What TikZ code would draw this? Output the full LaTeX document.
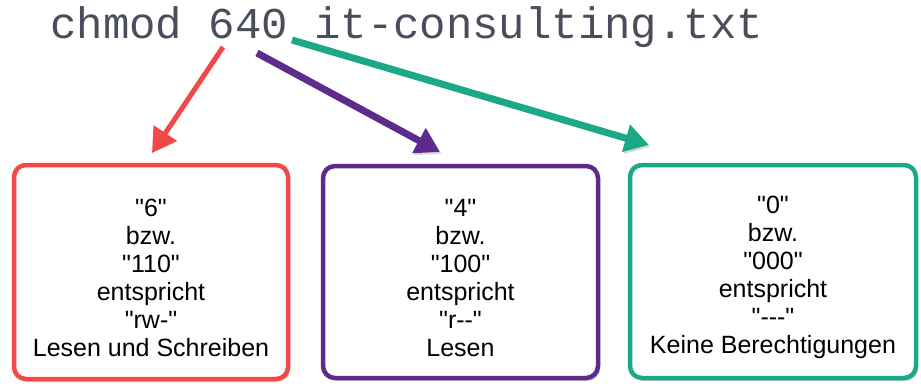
\documentclass[tikz,border=0pt]{standalone}
\usepackage{fontspec}
\setmainfont{Liberation Sans}
\setmonofont{Liberation Mono}
\usetikzlibrary{shadows,arrows.meta}
\definecolor{rotton}{HTML}{F44848}
\definecolor{lilaton}{HTML}{5E2A8C}
\definecolor{gruenton}{HTML}{1BA888}
\definecolor{befehlgrau}{HTML}{4A4D5C}
\newcommand{\gf}{\textquotedbl}
\newcommand{\obenstrut}{\rule{0pt}{29pt}}
\tikzset{
  rechtbox/.style={draw=#1, line width=4.5pt, rounded corners=12pt, fill=white,
    align=center, font=\fontsize{25}{28}\selectfont, text=black,
    drop shadow={opacity=0.35, shadow xshift=2pt, shadow yshift=-3pt}},
  zeiger/.style={draw=#1, line width=7pt, -{Triangle[length=24pt,width=27pt]},
    preaction={draw=black, opacity=0.15, transform canvas={shift={(1.5pt,-2pt)}}}}
}
\begin{document}
\begin{tikzpicture}[x=1pt,y=-1pt]
    \useasboundingbox (0,0) rectangle (921,388);
    % Befehlszeile
    \node[anchor=base west, inner sep=0pt, text=befehlgrau,
      font=\ttfamily\fontsize{44}{44}\selectfont] (befehl) at (50,38) {chmod 640 it-consulting.txt};

    % Kaesten fuer Besitzer, Gruppe, Andere
    \node[rechtbox=rotton, minimum width=274pt, minimum height=214pt] (besitzer) at (151,272)
      {\obenstrut\gf6\gf\\bzw.\\\gf110\gf\\entspricht\\\gf rw-\gf\\Lesen und Schreiben};
    \node[rechtbox=lilaton, minimum width=275pt, minimum height=212pt] (gruppe) at (460.5,272)
      {\obenstrut\gf4\gf\\bzw.\\\gf100\gf\\entspricht\\\gf r-{}-\gf\\Lesen};
    \node[rechtbox=gruenton, minimum width=286pt, minimum height=213pt] (andere) at (773,271.5)
      {\obenstrut\gf0\gf\\bzw.\\\gf000\gf\\entspricht\\\gf-{}-{}-\gf\\Keine Berechtigungen};

    % Pfeile von den Ziffern
    \coordinate (von6) at (223,47);
    \coordinate (von4) at (257,53);
    \coordinate (von0) at (292,40);
    \coordinate (zu6) at (152,153);
    \coordinate (zu4) at (440,152);
    \coordinate (zu0) at (649,145);
    \draw[zeiger=rotton, line width=5pt] (von6) -- (zu6);
    \draw[zeiger=lilaton] (von4) -- (zu4);
    \draw[zeiger=gruenton] (von0) -- (zu0);
\end{tikzpicture}
\end{document}
